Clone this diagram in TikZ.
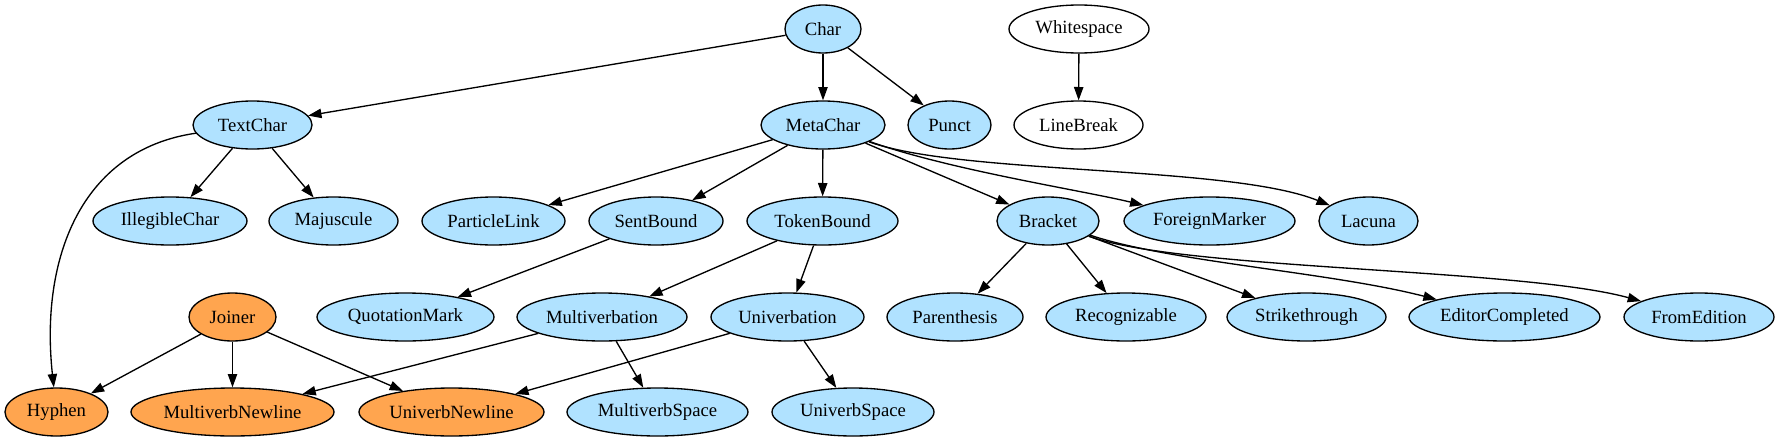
\documentclass[tikz,border=0pt]{standalone}
\usepackage{fontspec}
\setmainfont{Liberation Serif}
\newfontfamily\gvfont{Liberation Serif}
\usetikzlibrary{shapes.geometric,arrows.meta}
\definecolor{lb}{HTML}{B0E2FF}
\definecolor{org}{HTML}{FFA54F}
\tikzset{
  gn/.style={ellipse, draw, line width=1pt, inner sep=0pt, minimum height=36pt,
    minimum width={#1*1.5pt}, font=\gvfont\fontsize{14}{16}\selectfont},
  bl/.style={gn=#1, fill=lb},
  og/.style={gn=#1, fill=org},
  wh/.style={gn=#1, fill=white},
  arr/.style={-{Triangle[length=10pt,width=7pt]}, line width=1pt},
}
\begin{document}
\begin{tikzpicture}[x=0.75pt,y=-0.75pt]
\useasboundingbox (0,0) rectangle (1778,443);
% row 1
\node[bl=38]   (Char)       at (823,29)  {Char};
\node[wh=70]   (Whitespace) at (1079,29) {Whitespace};
% row 2
\node[bl=59.5] (TextChar)  at (252.5,125) {TextChar};
\node[bl=62]   (MetaChar)  at (823,125)   {MetaChar};
\node[bl=41.5] (Punct)     at (949.5,125) {Punct};
\node[wh=64.5] (LineBreak) at (1078.5,125) {LineBreak};
% row 3
\node[bl=77]   (IllegibleChar) at (170,221)    {IllegibleChar};
\node[bl=64.5] (Majuscule)     at (333.5,221)  {Majuscule};
\node[bl=71.5] (ParticleLink)  at (493.5,221)  {ParticleLink};
\node[bl=67]   (SentBound)     at (656,221)    {SentBound};
\node[bl=75.5] (TokenBound)    at (822.5,221)  {TokenBound};
\node[bl=51]   (Bracket)       at (1048,221)   {Bracket};
\node[bl=85.5] (ForeignMarker) at (1209.5,221) {ForeignMarker};
\node[bl=49.5] (Lacuna)        at (1368.5,221) {Lacuna};
% row 4
\node[og=43.5] (Joiner)          at (232.5,317)  {Joiner};
\node[bl=88.5] (QuotationMark)   at (405.5,317)  {QuotationMark};
\node[bl=85]   (Multiverbation)  at (602,317)    {Multiverbation};
\node[bl=76.5] (Univerbation)    at (787.5,317)  {Univerbation};
\node[bl=68]   (Parenthesis)     at (955,317)    {Parenthesis};
\node[bl=80]   (Recognizable)    at (1126,317)   {Recognizable};
\node[bl=79.5] (Strikethrough)   at (1306.5,317) {Strikethrough};
\node[bl=95.5] (EditorCompleted) at (1504.5,317) {EditorCompleted};
\node[bl=75]   (FromEdition)     at (1699,317)   {FromEdition};
% row 5
\node[og=51.5]  (Hyphen)           at (56.5,412)  {Hyphen};
\node[og=101.5] (MultiverbNewline) at (232.5,412) {MultiverbNewline};
\node[og=92.5]  (UniverbNewline)   at (451.5,412) {UniverbNewline};
\node[bl=90.5]  (MultiverbSpace)   at (657.5,412) {MultiverbSpace};
\node[bl=81]    (UniverbSpace)     at (853,412)   {UniverbSpace};
% edges
\draw[arr] (Char) -- (TextChar);
\draw[arr] (Char) -- (MetaChar);
\draw[arr] (Char) -- (Punct);
\draw[arr] (Whitespace) -- (LineBreak);
\draw[arr] (TextChar) -- (IllegibleChar);
\draw[arr] (TextChar) -- (Majuscule);
\draw[arr] (TextChar) .. controls (80,150) and (40,260) .. (Hyphen);
\draw[arr] (MetaChar) -- (ParticleLink);
\draw[arr] (MetaChar) -- (SentBound);
\draw[arr] (MetaChar) -- (TokenBound);
\draw[arr] (MetaChar) -- (Bracket);
\draw[arr] (MetaChar) .. controls (950,170) and (1080,190) .. (ForeignMarker);
\draw[arr] (MetaChar) .. controls (960,175) and (1230,165) .. (Lacuna);
\draw[arr] (SentBound) -- (QuotationMark);
\draw[arr] (TokenBound) -- (Multiverbation);
\draw[arr] (TokenBound) -- (Univerbation);
\draw[arr] (Bracket) -- (Parenthesis);
\draw[arr] (Bracket) -- (Recognizable);
\draw[arr] (Bracket) -- (Strikethrough);
\draw[arr] (Bracket) .. controls (1170,262) and (1330,272) .. (EditorCompleted);
\draw[arr] (Bracket) .. controls (1180,270) and (1520,268) .. (FromEdition);
\draw[arr] (Joiner) -- (Hyphen);
\draw[arr] (Joiner) -- (MultiverbNewline);
\draw[arr] (Joiner) -- (UniverbNewline);
\draw[arr] (Multiverbation) -- (MultiverbNewline);
\draw[arr] (Multiverbation) -- (MultiverbSpace);
\draw[arr] (Univerbation) -- (UniverbNewline);
\draw[arr] (Univerbation) -- (UniverbSpace);
\end{tikzpicture}
\end{document}
